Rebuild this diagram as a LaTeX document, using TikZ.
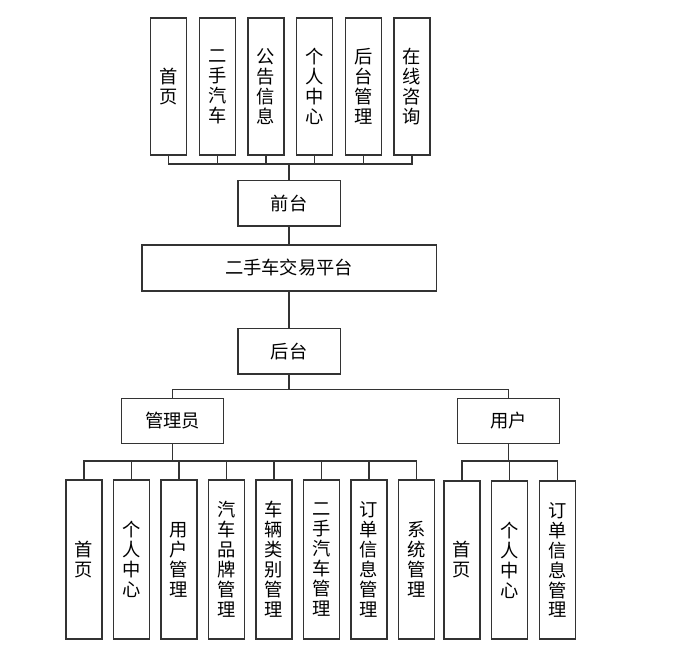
\documentclass[tikz,border=0pt]{standalone}
\usepackage{fontspec}
\setmainfont{Noto Sans CJK SC}
\usepackage{tikz}

\begin{document}
\begin{tikzpicture}[line width = 1pt, draw = black!80,
						font = \fontsize{13}{14.2}\selectfont,
						tall/.style = {rectangle, draw, align = center, inner sep = 0pt,
						minimum width = 0.9cm, minimum height = 3.425cm},
						longer/.style = {rectangle, draw, align = center, inner sep = 0pt,
						minimum width = 0.9cm, minimum height = 3.975cm},
						wide/.style = {rectangle, draw, minimum width = 2.56cm,
						minimum height = 1.13cm}]

				\useasboundingbox (0,0) rectangle (16.975,16.25);

				\node [tall] (t_1) at (4.217,14.0875) {首\\页};
				\node [tall] (t_2) at (5.433,14.0875) {二\\手\\汽\\车};
				\node [tall] (t_3) at (6.65,14.0875) {公\\告\\信\\息};
				\node [tall] (t_4) at (7.867,14.0875) {个\\人\\中\\心};
				\node [tall] (t_5) at (9.083,14.0875) {后\\台\\管\\理};
				\node [tall] (t_6) at (10.3,14.0875) {在\\线\\咨\\询};
				\node [wide] (front) at (7.225,11.167) {前台};
				\node [wide, minimum width = 7.36cm, minimum height = 1.15cm] (platform)
				at (7.225,9.55) {二手车交易平台};
				\node [wide] (back) at (7.225,7.467) {后台};

				\draw (t_1.south) -- ++(0,-0.21) -| (front.north);
				\draw (t_2.south) -- ++(0,-0.21) -| (front.north);
				\draw (t_3.south) -- ++(0,-0.21) -| (front.north);
				\draw (t_4.south) -- ++(0,-0.21) -| (front.north);
				\draw (t_5.south) -- ++(0,-0.21) -| (front.north);
				\draw (t_6.south) -- ++(0,-0.21) -| (front.north);
				\draw (front) -- (platform);
				\draw (platform) -- (back);

				\node [wide, minimum width = 2.54cm, minimum height = 1.125cm] (admin)
				at (4.3125,5.73) {管理员};
				\node [wide, minimum width = 2.54cm, minimum height = 1.125cm] (user)
				at (12.71,5.73) {用户};

				\draw (back.south) -- ++(0,-0.375) -| (admin.north);
				\draw (back.south) -- ++(0,-0.375) -| (user.north);

				\node [longer] (m_1) at (2.1,2.2625) {首\\页};
				\node [longer] (m_2) at (3.2875,2.2625) {个\\人\\中\\心};
				\node [longer] (m_3) at (4.475,2.2625) {用\\户\\管\\理};
				\node [longer] (m_4) at (5.6625,2.2625) {汽\\车\\品\\牌\\管\\理};
				\node [longer] (m_5) at (6.85,2.2625) {车\\辆\\类\\别\\管\\理};
				\node [longer] (m_6) at (8.0375,2.2625) {二\\手\\汽\\车\\管\\理};
				\node [longer] (m_7) at (9.225,2.2625) {订\\单\\信\\息\\管\\理};
				\node [longer] (m_8) at (10.4125,2.2625) {系\\统\\管\\理};

				\draw (admin.south) -- ++(0,-0.42) -| (m_1.north);
				\draw (admin.south) -- ++(0,-0.42) -| (m_2.north);
				\draw (admin.south) -- ++(0,-0.42) -| (m_3.north);
				\draw (admin.south) -- ++(0,-0.42) -| (m_4.north);
				\draw (admin.south) -- ++(0,-0.42) -| (m_5.north);
				\draw (admin.south) -- ++(0,-0.42) -| (m_6.north);
				\draw (admin.south) -- ++(0,-0.42) -| (m_7.north);
				\draw (admin.south) -- ++(0,-0.42) -| (m_8.north);

				\node [longer, minimum height = 3.95cm] (u_1) at (11.55,2.25) {首\\页};
				\node [longer, minimum height = 3.95cm] (u_2) at (12.74,2.25) {个\\人\\中\\心};
				\node [longer, minimum height = 3.95cm] (u_3) at (13.93,2.25) {订\\单\\信\\息\\管\\理};

				\draw (user.south) -- ++(0,-0.42) -| (u_1.north);
				\draw (user.south) -- ++(0,-0.42) -| (u_2.north);
				\draw (user.south) -- ++(0,-0.42) -| (u_3.north);
			\end{tikzpicture}
\end{document}
